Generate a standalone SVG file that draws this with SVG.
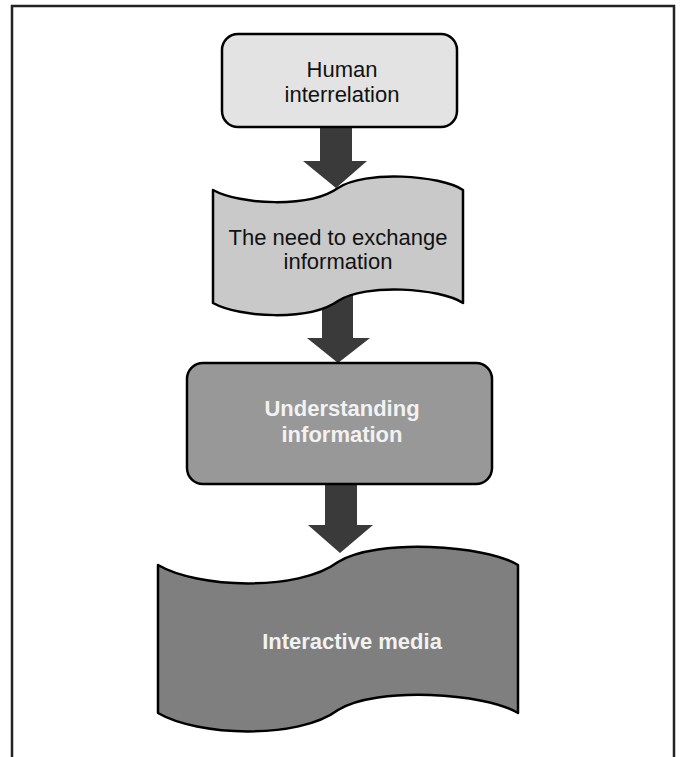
<svg xmlns="http://www.w3.org/2000/svg" width="681" height="757" viewBox="0 0 681 757">
<style>
.shape{stroke:#000;stroke-width:2.5;stroke-linejoin:round}
.arrow{fill:#3a3a3a;stroke:none}
.t{font-family:"Liberation Sans",Arial,sans-serif;font-size:22px;text-anchor:middle}
.dark{fill:#111}
.light{fill:#f2f2f2;font-weight:bold}
</style>
<rect width="681" height="757" fill="#fff"/>
<path d="M12,760 L12,6 L674,6 L674,760" fill="none" stroke="#222" stroke-width="2.5"/>
<g id="connectors">
<polygon class="arrow" points="320,125 352,125 352,161 367,161 336,188 303,161 320,161"/>
<polygon class="arrow" points="322,295 353,295 353,338 370,338 338,363 307,338 322,338"/>
<polygon class="arrow" points="325,482 357,482 357,525 373,525 340,553 308,525 325,525"/>
</g>
<g id="node-human">
<rect class="shape" x="222" y="34" width="235" height="93" rx="16" fill="#e3e3e3"/>
<text class="t dark" x="342" y="77">Human</text>
<text class="t dark" x="342" y="102">interrelation</text>
</g>
<g id="node-need">
<path class="shape" fill="#c9c9c9" d="M213,190 C240,205 310,208 338,188 C365,170 440,175 463,190 L463,303 C440,288 365,283 338,301 C310,321 240,318 213,303 Z"/>
<text class="t dark" x="338" y="245">The need to exchange</text>
<text class="t dark" x="338" y="269">information</text>
</g>
<g id="node-understanding">
<rect class="shape" x="187" y="363" width="305" height="121" rx="16" fill="#989898"/>
<text class="t light" x="342" y="416">Understanding</text>
<text class="t light" x="342" y="442">information</text>
</g>
<g id="node-media">
<path class="shape" fill="#7f7f7f" d="M158,565 C197,588 298,592 338,562 C377,538 485,545 518,565 L518,713 C485,693 377,686 338,710 C298,740 197,736 158,713 Z"/>
<text class="t light" x="352" y="649">Interactive media</text>
</g>
</svg>
